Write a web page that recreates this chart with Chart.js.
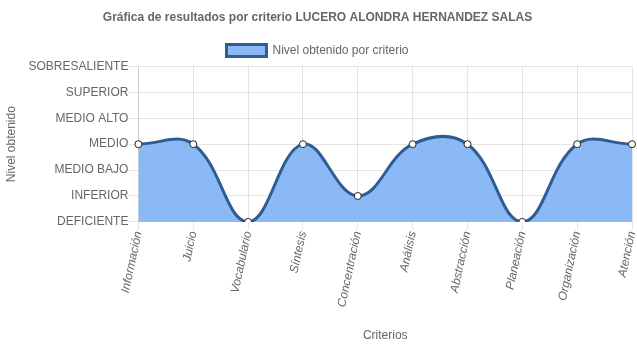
<!DOCTYPE html>
<html>
<head>
<meta charset="utf-8">
<script src="https://cdn.jsdelivr.net/npm/chart.js@4/dist/chart.umd.min.js"></script>
<style>
  html, body { margin: 0; padding: 0; background: #fff; }
  #wrap { width: 637px; height: 348px; }
</style>
</head>
<body>
<div id="wrap"><canvas id="chart"></canvas></div>
<script>
// ================= DATA =================
const criterios = ["Información", "Juicio", "Vocabulario", "Síntesis", "Concentración",
  "Análisis", "Abstracción", "Planeación", "Organización", "Atención"];
const niveles = [3, 3, 0, 3, 1, 3, 3, 0, 3, 3];
const nombresNivel = ["DEFICIENTE", "INFERIOR", "MEDIO BAJO", "MEDIO", "MEDIO ALTO", "SUPERIOR", "SOBRESALIENTE"];

Chart.defaults.font.family = "'Liberation Sans', Arial, Helvetica, sans-serif";
Chart.defaults.font.size = 12;
Chart.defaults.color = "#666";

// ================= CHART =================
const chart = new Chart(document.getElementById("chart"), {
  type: "line",
  data: {
    labels: criterios,
    datasets: [{
      label: "Nivel obtenido por criterio",
      data: niveles,
      fill: true,
      backgroundColor: "rgba(138, 185, 245, 1)",
      borderColor: "#2f5d93",
      borderWidth: 3,
      tension: 0.4,
      pointRadius: 3.5,
      pointBackgroundColor: "#fff",
      pointBorderColor: "#222",
      pointBorderWidth: 1
    }]
  },
  options: {
    responsive: true,
    maintainAspectRatio: false,
    animation: false,
    layout: { padding: { left: 0, right: 2, top: 0, bottom: 0 } },
    plugins: {
      title: {
        display: true,
        text: "Gráfica de resultados por criterio LUCERO ALONDRA HERNANDEZ SALAS",
        font: { size: 12, weight: "bold" },
        padding: { top: 10, bottom: 10 }
      },
      legend: {
        labels: { boxWidth: 40, boxHeight: 12, padding: 10 }
      },
      tooltip: { enabled: false }
    },
    scales: {
      x: {
        grid: { color: "rgba(0,0,0,0.1)", tickLength: 8 },
        ticks: { minRotation: 78, maxRotation: 78, padding: 0, font: { style: "italic" } },
        title: { display: true, text: "Criterios", padding: { top: 20, bottom: 5 } },
        // let the last rotated label run to the canvas edge
        afterFit: (s) => { s.paddingRight = 0; s.paddingLeft = 0; }
      },
      y: {
        min: 0,
        max: 6,
        grid: { color: "rgba(0,0,0,0.1)", tickLength: 10 },
        ticks: {
          stepSize: 1,
          padding: 0,
          callback: (v) => nombresNivel[v]
        },
        title: { display: true, text: "Nivel obtenido", padding: { top: 4, bottom: 10 } }
      }
    }
  }
});
</script>
</body>
</html>
